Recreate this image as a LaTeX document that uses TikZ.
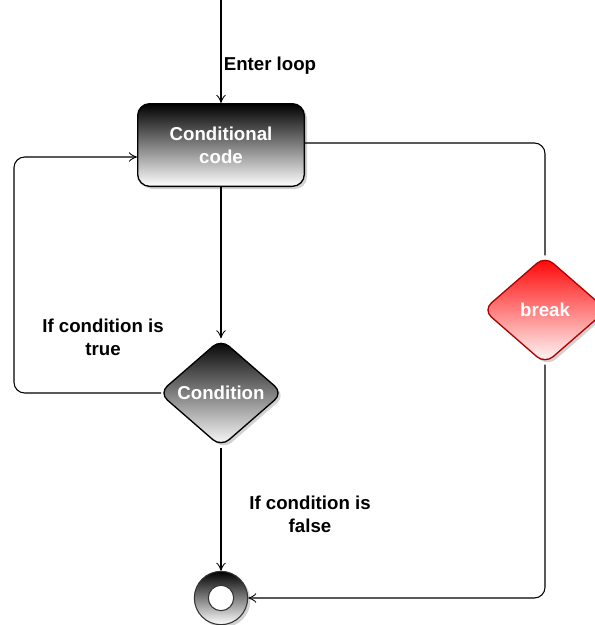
\documentclass[tikz,border=0pt]{standalone}
\usepackage{fontspec}
\setmainfont{Liberation Sans}
\usetikzlibrary{shapes.geometric,arrows.meta,shadows}
\definecolor{brkborder}{HTML}{B20000}
\begin{document}
\begin{tikzpicture}[x=0.75pt,y=-0.75pt,
  every node/.style={font=\fontsize{14}{17}\selectfont\bfseries},
  arr/.style={-{Classical TikZ Rightarrow[length=6pt,width=7pt]},line width=0.8pt},
  conn/.style={line width=0.8pt},
  shd/.style={drop shadow={shadow xshift=2pt,shadow yshift=-2pt,opacity=0.35}},
  blk/.style={draw=black,line width=1pt,top color=black,bottom color=white,text=white,shd},
  dia/.style={diamond,rounded corners=8pt,inner sep=-6pt,minimum width=93pt,minimum height=81pt,aspect=1.15},
  lbl/.style={align=center,text=black}]
\useasboundingbox (0,0) rectangle (594,625);
\fill[white] (0,0) rectangle (594,625);
% nodes
\coordinate (start) at (221,0);
\node[blk,rounded corners=9pt,minimum width=125pt,minimum height=62pt,align=center,inner sep=0pt] (cc) at (221,145) {Conditional\\code};
\node[blk,dia] (cond) at (221,393) {Condition};
\node[draw=brkborder,line width=1pt,top color=red,bottom color=white,text=white,shd,dia] (brk) at (545,310) {break};
\node[circle,draw=black!80,line width=0.8pt,top color=black,bottom color=white,minimum size=40pt,inner sep=0pt,shd] (endc) at (221,598) {};
\node[circle,draw=black!80,line width=0.8pt,fill=white,minimum size=19pt,inner sep=0pt] (endin) at (endc) {};
% labels
\node[lbl] (lenter) at (270,66) {Enter loop};
\node[lbl] (ltrue) at (103,337) {If condition is\\true};
\node[lbl] (lfalse) at (310,514) {If condition is\\false};
% connectors
\coordinate (loopx) at (14,393);
\draw[arr] (start) -- (cc.north);
\draw[arr] (cc.south) -- (cond.north);
\draw[arr] (cond.south) -- (endc.north);
\draw[arr,rounded corners=8pt] ([xshift=2pt]cond.west) -- (loopx) |- ([yshift=-9pt]cc.west);
\draw[conn,rounded corners=8pt] ([yshift=1.5pt]cc.east) -| (brk.north);
\draw[arr,rounded corners=8pt] (brk.south) |- (endc.east);
\end{tikzpicture}
\end{document}
